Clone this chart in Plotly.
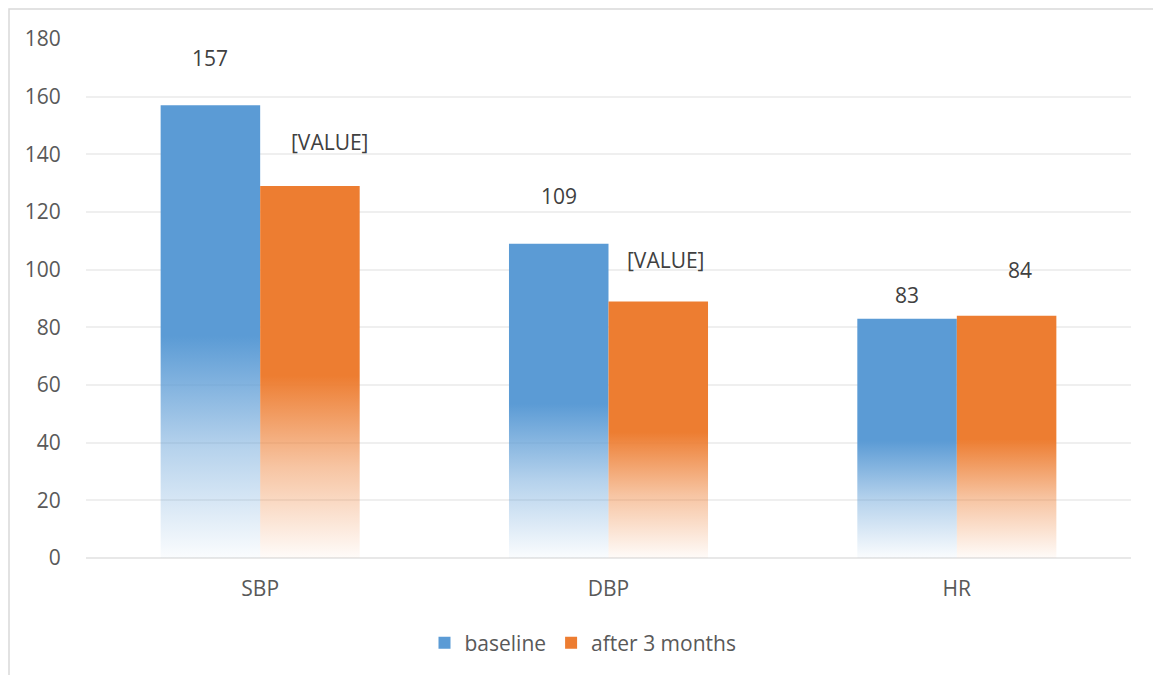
import plotly.graph_objects as go

# Chart data
categories = ["SBP", "DBP", "HR"]
baseline = [157, 109, 83]
after_3_months = [129, 89, 84]
baseline_labels = ["157", "109", "83"]
after_labels = ["[VALUE]", "[VALUE]", "84"]
y_ticks = [0, 20, 40, 60, 80, 100, 120, 140, 160, 180]

# Styling
BLUE = (91, 155, 213)
ORANGE = (237, 125, 49)
TEXT = "#595959"
GRID = "#EFEFEF"
FONT = "Open Sans"
FS = 21
BAR_W = 1 / 3.5          # two bars + 150% gap per category
FADE_TOP = 0.49          # fraction of bar height where the gradient reaches full colour
# label offsets in pixels (dx, dy) for each value label
base_label_off = [(0, 47), (0, 48), (0, 24)]
after_label_off = [(20, 44), (7, 41), (13, 46)]

x_idx = list(range(len(categories)))
fig = go.Figure()


def add_series(values, rgb, name, offset, rank):
    r, g, b = rgb
    scale = [
        [0.0, f"rgba({r},{g},{b},0.03)"],
        [FADE_TOP * 0.5, f"rgba({r},{g},{b},0.45)"],
        [FADE_TOP, f"rgba({r},{g},{b},1)"],
        [1.0, f"rgba({r},{g},{b},1)"],
    ]
    # each bar is a filled rectangle in data space with a vertical gradient
    for i, v in zip(x_idx, values):
        x0, x1 = i + offset, i + offset + BAR_W
        fig.add_trace(go.Scatter(
            x=[x0, x1, x1, x0, x0], y=[0, 0, v, v, 0],
            mode="none", fill="toself",
            fillgradient=dict(type="vertical", colorscale=scale, start=0, stop=v),
            showlegend=False, hoverinfo="skip", legendgroup=name,
        ))
    # legend entry
    fig.add_trace(go.Bar(
        x=[None], y=[None], name=name, legendgroup=name, legendrank=rank,
        marker=dict(color=f"rgb({r},{g},{b})", line=dict(width=0)),
        showlegend=True,
    ))


add_series(baseline, BLUE, "baseline", -BAR_W, 1)
add_series(after_3_months, ORANGE, "after 3 months", 0, 2)

annotations = []
for i in x_idx:
    for vals, labs, offs, centre in (
        (baseline, baseline_labels, base_label_off, i - BAR_W / 2),
        (after_3_months, after_labels, after_label_off, i + BAR_W / 2),
    ):
        dx, dy = offs[i]
        annotations.append(dict(
            x=centre, y=vals[i], xref="x", yref="y",
            text=labs[i], showarrow=False,
            xanchor="center", yanchor="middle",
            xshift=dx, yshift=dy,
            font=dict(family=FONT, size=FS, color="#404040"),
        ))

W, H = 1153, 675
L, R, T, B = 86, 22, 39, 117
pw, ph = W - L - R, H - T - B

fig.update_layout(
    width=W, height=H,
    margin=dict(l=L, r=R, t=T, b=B, pad=0),
    paper_bgcolor="white", plot_bgcolor="white",
    font=dict(family=FONT, size=FS, color=TEXT),
    xaxis=dict(
        range=[-0.5, 2.5], tickmode="array", tickvals=x_idx, ticktext=categories,
        showgrid=False, zeroline=False, showline=False,
        ticks="outside", ticklen=12, tickcolor="rgba(0,0,0,0)",
        tickfont=dict(family=FONT, size=FS, color=TEXT), fixedrange=True,
    ),
    yaxis=dict(
        range=[0, 180], tickmode="array", tickvals=y_ticks,
        showgrid=True, gridcolor=GRID, gridwidth=2,
        zeroline=True, zerolinecolor="#E8E8E8", zerolinewidth=2,
        showline=False, ticks="outside", ticklen=20, tickcolor="rgba(0,0,0,0)",
        tickfont=dict(family=FONT, size=FS, color=TEXT), fixedrange=True,
    ),
    legend=dict(
        orientation="h", x=(583 - L) / pw, xanchor="center",
        y=(T + ph - 643) / ph, yanchor="middle",
        font=dict(family=FONT, size=FS, color=TEXT),
        traceorder="normal", bgcolor="rgba(0,0,0,0)",
    ),
    annotations=annotations,
    shapes=[dict(
        type="rect", xref="paper", yref="paper",
        x0=(9 - L) / pw, x1=(W + 10 - L) / pw,
        y0=(T + ph - (H + 10)) / ph, y1=(T + ph - 9) / ph,
        line=dict(color="#D9D9D9", width=1.5), fillcolor="rgba(0,0,0,0)",
        layer="below",
    )],
)

fig.write_html("out.html")
